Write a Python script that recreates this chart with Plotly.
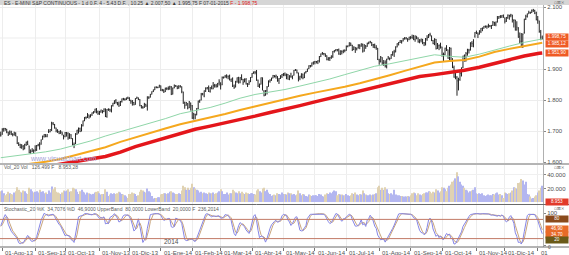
import plotly.graph_objects as go
import pandas as pd

# ---------------- data ----------------
holidays = ["2013-09-02", "2013-11-28", "2013-12-25", "2014-01-01", "2014-01-20",
            "2014-02-17", "2014-04-18", "2014-05-26", "2014-07-04", "2014-09-01",
            "2014-11-27", "2014-12-25", "2015-01-01"]

closes = [1686,
 1706, 1709, 1707, 1698, 1690, 1697, 1691, 1689, 1694, 1685, 1661, 1655, 1646, 1652, 1642, 1656, 1664, 1656, 1630, 1635, 1638, 1633,
 1640, 1653, 1656, 1655, 1671, 1684, 1689, 1683, 1688, 1698, 1705, 1725, 1722, 1710, 1701, 1698, 1693, 1699, 1691, 1682,
 1695, 1694, 1678, 1691, 1676, 1656, 1656, 1692, 1703, 1710, 1698, 1721, 1733, 1744, 1744, 1754, 1746, 1752, 1759, 1762, 1771, 1763, 1757,
 1761, 1768, 1762, 1771, 1747, 1770, 1771, 1768, 1782, 1790, 1798, 1791, 1787, 1781, 1795, 1804, 1802, 1802, 1807, 1806,
 1800, 1795, 1792, 1785, 1805, 1808, 1802, 1782, 1775, 1775, 1786, 1781, 1810, 1809, 1818, 1827, 1833, 1842, 1841, 1841, 1848,
 1832, 1831, 1826, 1838, 1837, 1838, 1843, 1819, 1839, 1848, 1846, 1838, 1844, 1845, 1828, 1790, 1782, 1792, 1774, 1794, 1783,
 1742, 1755, 1752, 1773, 1797, 1800, 1819, 1819, 1830, 1838, 1840, 1828, 1839, 1836, 1847, 1845, 1845, 1854, 1859,
 1845, 1873, 1873, 1877, 1878, 1877, 1867, 1868, 1846, 1841, 1858, 1872, 1860, 1872, 1866, 1857, 1865, 1852, 1849, 1857, 1872,
 1886, 1890, 1889, 1865, 1845, 1851, 1872, 1833, 1815, 1830, 1842, 1862, 1864, 1871, 1879, 1875, 1878, 1863, 1869, 1878, 1883,
 1883, 1881, 1884, 1867, 1878, 1875, 1878, 1896, 1897, 1888, 1870, 1877, 1885, 1872, 1888, 1892, 1900, 1911, 1909, 1920, 1923,
 1925, 1924, 1927, 1940, 1949, 1951, 1950, 1943, 1931, 1936, 1937, 1942, 1957, 1960, 1963, 1962, 1949, 1959, 1957, 1961, 1960,
 1973, 1975, 1985, 1977, 1963, 1972, 1965, 1968, 1977, 1974, 1981, 1958, 1978, 1973, 1983, 1987, 1988, 1978, 1978, 1969, 1970, 1931,
 1925, 1939, 1920, 1920, 1910, 1932, 1936, 1933, 1947, 1956, 1955, 1972, 1982, 1986, 1992, 1988, 1997, 2000, 2000, 1996, 2003,
 2002, 2000, 1997, 2007, 2001, 1988, 1995, 1997, 1985, 1984, 1998, 2001, 2011, 2010, 1994, 1982, 1998, 1966, 1982, 1977, 1972,
 1946, 1946, 1967, 1964, 1935, 1969, 1928, 1906, 1874, 1877, 1862, 1862, 1886, 1904, 1942, 1927, 1950, 1964, 1961, 1985, 1982, 1994, 2018,
 2017, 2012, 2023, 2031, 2032, 2038, 2039, 2038, 2040, 2039, 2041, 2051, 2048, 2052, 2063, 2069, 2068, 2073, 2068,
 2054, 2066, 2074, 2071, 2075, 2060, 2059, 2026, 2035, 2002, 1990, 1972, 2012, 2061, 2070, 2078, 2082, 2081, 2089, 2091, 2080, 2059,
 2058, 2021, 2003, 1999]

opens = [1688,
 1690, 1704, 1708, 1706, 1696, 1691, 1696, 1690, 1689, 1693, 1682, 1660, 1656, 1646, 1650, 1643, 1657, 1664, 1652, 1630, 1635, 1638,
 1637, 1639, 1653, 1656, 1658, 1674, 1683, 1689, 1683, 1696, 1698, 1704, 1725, 1721, 1710, 1701, 1698, 1693, 1697, 1686,
 1682, 1690, 1693, 1678, 1688, 1675, 1657, 1660, 1690, 1698, 1708, 1700, 1717, 1733, 1744, 1745, 1752, 1746, 1752, 1759, 1762, 1771, 1762,
 1758, 1762, 1766, 1763, 1771, 1747, 1769, 1770, 1765, 1782, 1790, 1798, 1791, 1787, 1783, 1795, 1804, 1802, 1802, 1807,
 1806, 1799, 1794, 1792, 1786, 1805, 1807, 1802, 1782, 1776, 1776, 1786, 1781, 1809, 1810, 1819, 1827, 1833, 1842, 1841, 1841,
 1846, 1833, 1831, 1827, 1838, 1837, 1838, 1842, 1819, 1839, 1847, 1845, 1840, 1844, 1843, 1826, 1791, 1783, 1789, 1775, 1790,
 1781, 1743, 1753, 1752, 1773, 1796, 1800, 1820, 1813, 1829, 1838, 1839, 1828, 1840, 1836, 1847, 1846, 1844, 1855,
 1855, 1849, 1873, 1874, 1877, 1877, 1878, 1865, 1869, 1845, 1842, 1859, 1872, 1858, 1874, 1867, 1860, 1866, 1851, 1851, 1859,
 1873, 1886, 1890, 1890, 1864, 1845, 1851, 1871, 1829, 1817, 1830, 1844, 1861, 1865, 1871, 1879, 1876, 1876, 1864, 1870, 1877,
 1883, 1884, 1879, 1883, 1868, 1877, 1874, 1880, 1896, 1897, 1888, 1871, 1875, 1884, 1872, 1888, 1892, 1901, 1911, 1910, 1919,
 1923, 1924, 1923, 1927, 1940, 1949, 1950, 1949, 1943, 1931, 1934, 1936, 1941, 1957, 1960, 1963, 1962, 1948, 1958, 1956, 1961,
 1960, 1973, 1975, 1984, 1977, 1963, 1970, 1965, 1968, 1977, 1974, 1980, 1958, 1976, 1973, 1983, 1987, 1986, 1978, 1978, 1969, 1967,
 1929, 1925, 1937, 1916, 1922, 1908, 1932, 1935, 1934, 1946, 1955, 1955, 1971, 1980, 1986, 1991, 1991, 1997, 1999, 1998, 1996,
 2003, 2002, 2000, 1995, 2006, 2000, 1987, 1993, 1996, 1985, 1983, 1997, 2002, 2011, 2007, 1992, 1981, 1996, 1966, 1975, 1977,
 1971, 1945, 1947, 1969, 1962, 1934, 1967, 1926, 1905, 1876, 1874, 1855, 1866, 1882, 1906, 1941, 1926, 1950, 1961, 1961, 1984, 1978, 2006,
 2017, 2016, 2014, 2022, 2030, 2032, 2037, 2038, 2038, 2039, 2036, 2041, 2051, 2045, 2052, 2064, 2069, 2068, 2072,
 2065, 2054, 2065, 2073, 2072, 2074, 2057, 2057, 2026, 2032, 2004, 1989, 1972, 2018, 2061, 2070, 2078, 2082, 2082, 2088, 2089, 2081,
 2058, 2055, 2019, 1996]

highs = [1698,
 1709, 1710, 1710, 1707, 1698, 1702, 1701, 1693, 1698, 1696, 1683, 1664, 1659, 1658, 1655, 1659, 1666, 1669, 1653, 1641, 1645, 1641,
 1654, 1655, 1659, 1664, 1673, 1685, 1690, 1690, 1690, 1706, 1706, 1730, 1729, 1723, 1711, 1706, 1701, 1703, 1698, 1688,
 1697, 1697, 1696, 1693, 1690, 1677, 1663, 1693, 1704, 1711, 1711, 1722, 1734, 1745, 1747, 1758, 1753, 1754, 1760, 1764, 1772, 1774, 1766,
 1765, 1769, 1767, 1773, 1773, 1771, 1773, 1772, 1783, 1791, 1799, 1803, 1794, 1795, 1797, 1805, 1807, 1806, 1808, 1811,
 1809, 1801, 1800, 1794, 1806, 1811, 1808, 1803, 1784, 1781, 1791, 1788, 1812, 1812, 1820, 1828, 1834, 1843, 1844, 1843, 1849,
 1847, 1836, 1835, 1840, 1841, 1844, 1846, 1845, 1840, 1850, 1848, 1846, 1848, 1848, 1844, 1827, 1795, 1794, 1790, 1797, 1792,
 1784, 1759, 1756, 1774, 1798, 1801, 1823, 1823, 1831, 1841, 1842, 1847, 1842, 1847, 1858, 1852, 1852, 1855, 1867,
 1857, 1876, 1876, 1881, 1883, 1879, 1882, 1869, 1873, 1850, 1862, 1873, 1875, 1874, 1883, 1868, 1870, 1871, 1855, 1864, 1874,
 1887, 1892, 1894, 1897, 1866, 1853, 1873, 1873, 1832, 1832, 1845, 1863, 1867, 1872, 1881, 1880, 1882, 1877, 1871, 1880, 1884,
 1887, 1889, 1885, 1884, 1880, 1888, 1879, 1897, 1900, 1898, 1888, 1878, 1886, 1885, 1889, 1894, 1901, 1912, 1913, 1921, 1924,
 1926, 1926, 1928, 1942, 1950, 1955, 1952, 1950, 1944, 1938, 1939, 1944, 1958, 1961, 1964, 1964, 1966, 1960, 1960, 1962, 1963,
 1976, 1976, 1986, 1985, 1978, 1973, 1971, 1969, 1980, 1980, 1983, 1982, 1980, 1977, 1985, 1988, 1991, 1987, 1981, 1982, 1977, 1968,
 1933, 1942, 1938, 1929, 1928, 1933, 1942, 1937, 1948, 1957, 1962, 1973, 1983, 1987, 1993, 1993, 2000, 2003, 2003, 1999, 2004,
 2006, 2011, 2010, 2008, 2006, 2002, 1996, 1998, 1997, 1987, 2000, 2009, 2013, 2017, 2008, 1994, 1999, 1997, 1984, 1979, 1985,
 1972, 1953, 1969, 1977, 1963, 1971, 1969, 1935, 1911, 1895, 1877, 1872, 1895, 1905, 1943, 1947, 1955, 1965, 1965, 1986, 1990, 1996, 2019,
 2024, 2018, 2025, 2032, 2034, 2039, 2040, 2040, 2046, 2042, 2042, 2055, 2052, 2053, 2071, 2071, 2074, 2074, 2076,
 2066, 2068, 2076, 2075, 2078, 2075, 2060, 2059, 2054, 2035, 2018, 2016, 2015, 2062, 2075, 2079, 2088, 2085, 2092, 2094, 2091, 2085,
 2071, 2056, 2026, 2008]

lows = [1682,
 1688, 1698, 1701, 1693, 1684, 1688, 1687, 1683, 1685, 1683, 1658, 1652, 1645, 1643, 1638, 1641, 1652, 1655, 1628, 1626, 1632, 1627,
 1634, 1636, 1651, 1640, 1656, 1672, 1679, 1680, 1680, 1694, 1696, 1700, 1719, 1708, 1696, 1694, 1690, 1691, 1686, 1673,
 1680, 1682, 1672, 1675, 1674, 1654, 1645, 1658, 1688, 1692, 1697, 1699, 1715, 1732, 1738, 1742, 1740, 1744, 1749, 1756, 1759, 1757, 1752,
 1752, 1759, 1757, 1761, 1745, 1743, 1765, 1762, 1760, 1779, 1787, 1789, 1783, 1778, 1781, 1792, 1799, 1798, 1800, 1803,
 1797, 1788, 1782, 1783, 1785, 1804, 1800, 1780, 1773, 1772, 1775, 1778, 1766, 1803, 1808, 1818, 1826, 1832, 1838, 1838, 1840,
 1829, 1828, 1823, 1826, 1832, 1832, 1833, 1816, 1818, 1838, 1842, 1835, 1836, 1840, 1822, 1788, 1772, 1782, 1770, 1774, 1766,
 1739, 1737, 1738, 1751, 1770, 1791, 1799, 1815, 1809, 1826, 1834, 1826, 1824, 1835, 1835, 1840, 1840, 1841, 1847,
 1834, 1848, 1869, 1872, 1870, 1867, 1863, 1858, 1842, 1836, 1841, 1856, 1853, 1854, 1864, 1849, 1857, 1850, 1842, 1849, 1858,
 1872, 1885, 1883, 1862, 1842, 1839, 1850, 1831, 1812, 1814, 1818, 1843, 1856, 1862, 1870, 1873, 1869, 1859, 1852, 1868, 1871,
 1877, 1877, 1867, 1866, 1864, 1872, 1867, 1879, 1894, 1886, 1860, 1864, 1870, 1867, 1871, 1886, 1891, 1900, 1905, 1908, 1914,
 1915, 1918, 1916, 1921, 1939, 1946, 1944, 1939, 1928, 1927, 1926, 1933, 1936, 1953, 1957, 1957, 1946, 1945, 1947, 1951, 1954,
 1959, 1970, 1973, 1974, 1958, 1961, 1952, 1960, 1966, 1964, 1972, 1953, 1956, 1965, 1972, 1980, 1983, 1974, 1968, 1967, 1962, 1929,
 1914, 1921, 1913, 1910, 1905, 1902, 1931, 1928, 1933, 1943, 1939, 1954, 1970, 1976, 1984, 1982, 1989, 1995, 1995, 1988, 1993,
 1996, 1998, 1993, 1988, 1996, 1985, 1983, 1986, 1980, 1974, 1976, 1991, 2000, 2005, 1990, 1980, 1977, 1963, 1965, 1961, 1966,
 1940, 1926, 1945, 1958, 1933, 1925, 1924, 1903, 1872, 1867, 1814, 1831, 1862, 1876, 1903, 1924, 1924, 1943, 1950, 1960, 1971, 1970, 2001,
 2013, 2000, 2011, 2016, 2022, 2030, 2033, 2030, 2033, 2035, 2029, 2039, 2039, 2038, 2050, 2062, 2064, 2065, 2065,
 2047, 2052, 2062, 2059, 2067, 2050, 2034, 2024, 2024, 2001, 1983, 1970, 1968, 2014, 2058, 2066, 2078, 2078, 2081, 2084, 2077, 2057,
 2046, 2017, 1993, 1996]

# volume in thousands of contracts
volume_k = [16,
 17, 13, 10, 12, 15, 13, 12, 11, 14, 16, 22, 18, 15, 14, 17, 16, 13, 12, 21, 19, 16, 14,
 15, 16, 14, 18, 15, 16, 13, 14, 12, 17, 14, 23, 19, 22, 15, 14, 13, 12, 14, 17,
 16, 17, 19, 15, 16, 21, 20, 19, 15, 12, 16, 18, 15, 14, 11, 14, 13, 12, 11, 12, 14, 15, 16,
 13, 11, 12, 12, 19, 15, 9, 11, 13, 12, 13, 12, 13, 15, 14, 12, 11, 10, 8, 6,
 12, 12, 14, 13, 12, 9, 10, 15, 18, 17, 15, 14, 20, 16, 14, 9, 5, 6, 6, 7, 7,
 11, 12, 13, 13, 12, 13, 15, 16, 14, 13, 12, 12, 13, 12, 17, 24, 22, 18, 21, 18, 21,
 27, 22, 20, 18, 17, 14, 15, 13, 14, 13, 12, 14, 13, 13, 14, 12, 13, 14, 16,
 19, 16, 12, 12, 14, 11, 13, 13, 18, 16, 14, 13, 16, 13, 15, 13, 12, 14, 13, 12, 13,
 13, 12, 11, 17, 19, 16, 14, 20, 21, 16, 18, 14, 12, 9, 10, 11, 10, 13, 12, 11, 14,
 12, 12, 11, 14, 13, 13, 11, 12, 10, 11, 17, 13, 10, 12, 11, 9, 8, 11, 10, 9, 10,
 10, 10, 9, 12, 11, 9, 8, 11, 13, 12, 14, 13, 15, 17, 16, 10, 12, 11, 11, 10, 10,
 12, 10, 9, 10, 13, 12, 14, 11, 10, 12, 11, 17, 13, 11, 10, 10, 11, 10, 11, 12, 13, 22,
 24, 18, 21, 18, 22, 19, 13, 12, 13, 11, 18, 11, 10, 10, 9, 9, 8, 8, 8, 9, 8,
 10, 13, 14, 13, 10, 13, 11, 10, 12, 13, 14, 14, 16, 15, 13, 15, 14, 19, 17, 14, 16,
 22, 21, 19, 16, 21, 24, 26, 30, 32, 35, 44, 38, 30, 26, 24, 21, 18, 17, 14, 16, 17, 18, 22,
 13, 12, 13, 12, 13, 10, 9, 10, 11, 10, 10, 12, 11, 13, 14, 11, 12, 10, 6,
 14, 13, 12, 13, 14, 17, 22, 21, 20, 28, 29, 34, 32, 26, 30, 12, 11, 8, 5, 6, 8, 10,
 14, 17, 21, 24]

stoch_k = [60, 75, 85, 95, 87, 65, 51, 43, 37, 33,
 26, 20, 7, 4, 7, 7, 15, 23, 30, 23,
 14, 11, 13, 16, 26, 46, 61, 78, 88, 99,
 96, 94, 91, 94, 95, 96, 89, 80, 71, 64,
 60, 50, 36, 29, 31, 29, 27, 17, 14, 8,
 29, 60, 88, 91, 92, 93, 98, 98, 97, 94,
 93, 94, 97, 98, 95, 88, 83, 85, 85, 88,
 66, 68, 67, 86, 89, 92, 98, 92, 84, 72,
 74, 83, 92, 94, 94, 93, 89, 79, 63, 44,
 48, 65, 82, 59, 30, 8, 16, 22, 52, 71,
 95, 96, 98, 98, 98, 97, 97, 92, 86, 77,
 79, 82, 83, 82, 57, 55, 58, 84, 82, 78,
 77, 67, 41, 17, 14, 14, 20, 18, 18, 13,
 11, 21, 34, 48, 62, 74, 88, 96, 98, 93,
 91, 88, 91, 90, 89, 91, 91, 84, 84, 87,
 95, 94, 92, 85, 77, 55, 36, 29, 47, 60,
 70, 65, 62, 57, 47, 41, 36, 50, 73, 90,
 95, 77, 46, 23, 28, 27, 21, 9, 20, 38,
 52, 63, 70, 74, 77, 71, 73, 78, 91, 96,
 94, 92, 78, 72, 61, 67, 77, 87, 88, 63,
 46, 44, 45, 54, 60, 83, 92, 96, 96, 96,
 98, 98, 97, 98, 98, 98, 96, 91, 81, 73,
 67, 70, 80, 90, 98, 97, 86, 80, 74, 82,
 83, 89, 92, 96, 93, 80, 71, 59, 59, 61,
 68, 79, 63, 67, 58, 78, 83, 93, 85, 75,
 59, 52, 31, 21, 16, 18, 18, 9, 17, 26,
 36, 42, 52, 62, 76, 86, 97, 98, 98, 97,
 96, 97, 96, 96, 96, 93, 85, 83, 79, 61,
 46, 39, 38, 32, 36, 55, 78, 84, 75, 50,
 41, 27, 32, 23, 28, 19, 17, 25, 36, 32,
 33, 21, 19, 3, 4, 13, 21, 33, 41, 58,
 67, 77, 81, 89, 95, 96, 98, 98, 98, 97,
 96, 97, 98, 98, 98, 98, 97, 95, 93, 94,
 92, 92, 90, 93, 90, 94, 90, 78, 72, 76,
 87, 92, 78, 68, 38, 27, 8, 9, 3, 16,
 42, 73, 92, 96, 96, 95, 96, 95, 86, 77,
 62, 47, 35]

stoch_d = [58, 63, 73, 85, 89, 82, 68, 53, 44, 38,
 32, 26, 18, 10, 6, 6, 10, 15, 23, 25,
 22, 16, 13, 13, 18, 29, 44, 62, 76, 88,
 94, 96, 94, 93, 93, 95, 93, 88, 80, 72,
 65, 58, 49, 38, 32, 30, 29, 24, 19, 13,
 17, 32, 59, 80, 90, 92, 94, 96, 98, 96,
 95, 94, 95, 96, 97, 94, 89, 85, 84, 86,
 80, 74, 67, 74, 81, 89, 93, 94, 91, 83,
 77, 76, 83, 90, 93, 94, 92, 87, 77, 62,
 52, 52, 65, 69, 57, 32, 18, 15, 30, 48,
 73, 87, 96, 97, 98, 98, 97, 95, 92, 85,
 81, 79, 81, 82, 74, 65, 57, 66, 75, 81,
 79, 74, 62, 42, 24, 15, 16, 17, 19, 16,
 14, 15, 22, 34, 48, 61, 75, 86, 94, 96,
 94, 91, 90, 90, 90, 90, 90, 89, 86, 85,
 89, 92, 94, 90, 85, 72, 56, 40, 37, 45,
 59, 65, 66, 61, 55, 48, 41, 42, 53, 71,
 86, 87, 73, 49, 32, 26, 25, 19, 17, 22,
 37, 51, 62, 69, 74, 74, 74, 74, 81, 88,
 94, 94, 88, 81, 70, 67, 68, 77, 84, 79,
 66, 51, 45, 48, 53, 66, 78, 90, 95, 96,
 97, 97, 98, 98, 98, 98, 97, 95, 89, 82,
 74, 70, 72, 80, 89, 95, 94, 88, 80, 79,
 80, 85, 88, 92, 94, 90, 81, 70, 63, 60,
 63, 69, 70, 70, 63, 68, 73, 85, 87, 84,
 73, 62, 47, 35, 23, 18, 17, 15, 15, 17,
 26, 35, 43, 52, 63, 75, 86, 94, 98, 98,
 97, 97, 96, 96, 96, 95, 91, 87, 82, 74,
 62, 49, 41, 36, 35, 41, 56, 72, 79, 70,
 55, 39, 33, 27, 28, 23, 21, 20, 26, 31,
 34, 29, 24, 14, 9, 7, 13, 22, 32, 44,
 55, 67, 75, 82, 88, 93, 96, 97, 98, 98,
 97, 97, 97, 98, 98, 98, 98, 97, 95, 94,
 93, 93, 91, 92, 91, 92, 91, 87, 80, 75,
 78, 85, 86, 79, 61, 44, 24, 15, 7, 9,
 20, 44, 69, 87, 95, 96, 96, 95, 92, 86,
 75, 62, 47]

# moving averages read at every 10th bar (bar index of each reading)
ma_bars = [0, 10, 20, 30, 40, 50, 60, 70, 80, 90, 100, 110, 120, 130, 140, 150, 160, 170, 180,
           190, 200, 210, 220, 230, 240, 250, 260, 270, 280, 290, 300, 310, 320, 330, 340, 350, 360, 362]
ma_green = [1614, 1620, 1626, 1633, 1642, 1654, 1668, 1684, 1698, 1712, 1725, 1740, 1756, 1766, 1776,
            1790, 1806, 1818, 1826, 1834, 1845, 1856, 1868, 1882, 1896, 1909, 1917, 1926, 1937, 1946,
            1941, 1938, 1948, 1962, 1974, 1986, 1996, 1997]
ma_orange = [1582, 1588, 1594, 1601, 1610, 1622, 1634, 1648, 1665, 1680, 1695, 1708, 1722, 1733, 1743,
             1755, 1768, 1780, 1792, 1804, 1814, 1824, 1833, 1843, 1854, 1866, 1880, 1894, 1908, 1921,
             1926, 1929, 1940, 1955, 1965, 1975, 1984, 1985]
ma_red = [1555, 1563, 1571, 1585, 1594, 1602, 1610, 1618, 1632, 1650, 1664, 1678, 1694, 1706, 1716,
          1726, 1737, 1748, 1760, 1770, 1782, 1794, 1806, 1817, 1828, 1840, 1854, 1866, 1876, 1882,
          1888, 1896, 1906, 1918, 1930, 1942, 1951, 1952]

price_grid = [1600, 1700, 1800, 1900, 2000, 2100]
price_ticks = [1600, 1700, 1800, 1900, 2100]          # 2.000 is hidden behind the value boxes
price_ticktext = ["1.600", "1.700", "1.800", "1.900", "2.100"]
vol_ticks = [20, 40]
vol_ticktext = ["20.000", "40.000"]
month_names = {1: "Ene", 2: "Feb", 3: "Mar", 4: "Abr", 5: "May", 6: "Jun",
               7: "Jul", 8: "Ago", 9: "Sep", 10: "Oct", 11: "Nov", 12: "Dic"}

header_text = ("ES - E-MINI S&P CONTINUOUS - 1 d 0.F. 4 - 5.43 D.F. , 10.25 \u25b2 2.007,50 "
               "\u25b2 1.995,75 F 07-01-2015 <span style='color:#e02020'>F - 1.998,75</span>")
vol_header = "Vol_20 Vol&nbsp;&nbsp;&nbsp;126.499 F&nbsp;&nbsp;&nbsp;8.953,28"
stoch_header = ("Stochastic_20 %K&nbsp;&nbsp;34,7076 %D&nbsp;&nbsp;46,9000 UpperBand&nbsp;&nbsp;80,0000 "
                "LowerBand&nbsp;&nbsp;20,0000 F&nbsp;&nbsp;236,2014")

# ---------------- checks ----------------
days = pd.bdate_range("2013-07-31", "2015-01-07")
days = days[~days.isin(pd.to_datetime(holidays))]
n = len(closes)
for name, arr in [("opens", opens), ("highs", highs), ("lows", lows), ("volume_k", volume_k),
                  ("stoch_k", stoch_k), ("stoch_d", stoch_d), ("days", days)]:
    if len(arr) != n:
        raise ValueError(f"{name} has {len(arr)} values, closes has {n}")
xs = list(range(n))

# ---------------- geometry (pixels) ----------------
W, H = 569, 255
ML, MR, MT, MB = 0, 26, 5, 8
PH = H - MT - MB
PW = W - ML - MR
def py(p):
    return (H - MB - p) / PH
def px(p):
    return (p - ML) / PW

fig = go.Figure()

fig.add_trace(go.Scatter(x=ma_bars, y=ma_green, mode="lines", line=dict(color="#8fd6a8", width=1),
                         xaxis="x", yaxis="y", hoverinfo="skip"))
fig.add_trace(go.Scatter(x=ma_bars, y=ma_orange, mode="lines", line=dict(color="#f5a81e", width=2),
                         xaxis="x", yaxis="y", hoverinfo="skip"))
fig.add_trace(go.Scatter(x=ma_bars, y=ma_red, mode="lines", line=dict(color="#e4161b", width=3.5),
                         xaxis="x", yaxis="y", hoverinfo="skip"))
fig.add_trace(go.Ohlc(x=xs, open=opens, high=highs, low=lows, close=closes,
                      increasing=dict(line=dict(color="#222222", width=1)),
                      decreasing=dict(line=dict(color="#222222", width=1)),
                      tickwidth=0.3, xaxis="x", yaxis="y"))
vcolors = ["#b3b6f0" if c >= o else "#e0d2b2" for o, c in zip(opens, closes)]
fig.add_trace(go.Bar(x=xs, y=volume_k, marker=dict(color=vcolors, line=dict(width=0)),
                     xaxis="x", yaxis="y2"))
fig.add_trace(go.Scatter(x=xs, y=stoch_d, mode="lines", line=dict(color="#c9a57c", width=1),
                         xaxis="x", yaxis="y3"))
fig.add_trace(go.Scatter(x=xs, y=stoch_k, mode="lines", line=dict(color="#8585e6", width=1),
                         xaxis="x", yaxis="y3"))

month_idx = [i for i in range(1, n) if days[i].month != days[i - 1].month]

axis_font = dict(family="Liberation Sans", size=6, color="#505050")
common_y = dict(side="right", anchor="x", ticks="outside", ticklen=2, tickcolor="#888",
                tickfont=axis_font, zeroline=False, showline=True, linecolor="#b0b0b0",
                linewidth=1, fixedrange=True)

fig.update_layout(
    width=W, height=H, autosize=False,
    margin=dict(l=ML, r=MR, t=MT, b=MB, pad=0),
    paper_bgcolor="white", plot_bgcolor="white",
    showlegend=False, bargap=0.3,
    font=dict(family="Liberation Sans", size=6, color="#444"),
    xaxis=dict(domain=[0, 1], range=[-0.5, n - 0.5], anchor="y3",
               tickvals=month_idx, ticks="outside", ticklen=3, tickcolor="#777",
               showticklabels=False, showgrid=True, gridcolor="#ededed", gridwidth=1,
               zeroline=False, showline=False, rangeslider=dict(visible=False), fixedrange=True),
    yaxis=dict(domain=[py(163), py(MT)], range=[1597, 2106.5], tickvals=price_ticks,
               ticktext=price_ticktext, showgrid=True, gridcolor="#ededed", **common_y),
    yaxis2=dict(domain=[py(204), py(165)], range=[-3, 54.8], tickvals=vol_ticks,
                ticktext=vol_ticktext, showgrid=True, gridcolor="#f0f0f0", **common_y),
    yaxis3=dict(domain=[0, py(205)], range=[-6.25, 125], tickvals=[0, 100],
                ticktext=["", "100"], showgrid=False, **common_y),
)

shapes = []
shapes.append(dict(type="rect", xref="paper", yref="paper", x0=px(0), x1=px(W), y0=py(MT), y1=py(0),
                   fillcolor="#d6d6d6", line=dict(width=0), layer="below"))
# gridline of the hidden 2.000 level
shapes.append(dict(type="line", xref="paper", yref="y", x0=0, x1=1, y0=price_grid[4], y1=price_grid[4],
                   line=dict(color="#ededed", width=1), layer="below"))
for row in (164, 204.5, 247):
    shapes.append(dict(type="line", xref="paper", yref="paper", x0=px(0), x1=px(W), y0=py(row), y1=py(row),
                       line=dict(color="#6a6a6a", width=1)))
for lvl in (80, 20):
    shapes.append(dict(type="line", xref="paper", yref="y3", x0=0, x1=1, y0=lvl, y1=lvl,
                       line=dict(color="#c27a66", width=1)))
fig.update_layout(shapes=shapes)

ann = []
small = dict(family="Liberation Sans", size=5, color="#3a3a3a")
ann.append(dict(xref="paper", yref="paper", x=px(2), y=py(2.6), text=header_text, showarrow=False,
                xanchor="left", yanchor="middle", font=small))
ann.append(dict(xref="paper", yref="paper", x=px(2), y=py(167), text=vol_header, showarrow=False,
                xanchor="left", yanchor="middle", font=dict(family="Liberation Sans", size=5, color="#606060")))
ann.append(dict(xref="paper", yref="paper", x=px(2), y=py(208.5), text=stoch_header, showarrow=False,
                xanchor="left", yanchor="middle", font=dict(family="Liberation Sans", size=5, color="#606060")))
ann.append(dict(xref="x", yref="paper", x=18, y=py(158), text="www.visualchart.com", showarrow=False,
                xanchor="left", yanchor="middle", font=dict(family="Liberation Sans", size=7, color="#a4a4d8")))
for k, i in enumerate(month_idx):
    d = days[i]
    label = f"01-{month_names[d.month]}-{d.strftime('%y')}" if k < len(month_idx) - 1 else "01"
    ann.append(dict(xref="x", yref="paper", x=i + 0.6, y=py(248), text=label, showarrow=False,
                    xanchor="left", yanchor="top", font=axis_font))
year_i = [i for i in month_idx if days[i].month == 1][0]
ann.append(dict(xref="x", yref="paper", x=year_i + 0.6, y=py(246.5), text=str(days[year_i].year),
                showarrow=False, xanchor="left", yanchor="bottom",
                font=dict(family="Liberation Sans", size=6.5, color="#505050")))
# stochastic "0" level label, placed just under the 20 box
ann.append(dict(xref="paper", yref="paper", x=px(546), y=py(246.6), text="0", showarrow=False,
                xanchor="left", yanchor="middle", font=dict(family="Liberation Sans", size=5, color="#505050")))

def box(yref, yval, text, bg, shift=0, fg="white"):
    return dict(xref="paper", yref=yref, x=px(545), y=yval, yshift=shift, text=text, showarrow=False,
                xanchor="left", yanchor="middle", bgcolor=bg, borderpad=0, width=22, height=5.5,
                font=dict(family="Liberation Sans", size=4.6, color=fg))
ann.append(box("y", closes[-1], "1.998,75", "#ef5a24", shift=1.6))
ann.append(box("y", ma_orange[-1], "1.985,12", "#ef5a24", shift=-1.6))
ann.append(box("y", ma_red[-1], "1.951,90", "#ef5a24"))
ann.append(box("y2", 0, "8.953", "#e23a2a"))
ann.append(box("y3", 80, "80", "#8a4a1c"))
ann.append(box("y3", stoch_d[-1], "46,90", "#e86a28", shift=0.6))
ann.append(box("y3", stoch_k[-1], "34,70", "#e86a28", shift=-1.4))
ann.append(box("y3", 20, "20", "#6a5a18", shift=-1.8))
for row in (2.6, 167, 208.5):
    ann.append(dict(xref="paper", yref="paper", x=px(567), y=py(row), text="\u25ab\u22a0\u00d7",
                    showarrow=False, xanchor="right", yanchor="middle",
                    font=dict(family="DejaVu Sans", size=4.5, color="#707070")))
fig.update_layout(annotations=ann)

fig.write_html("out.html")
